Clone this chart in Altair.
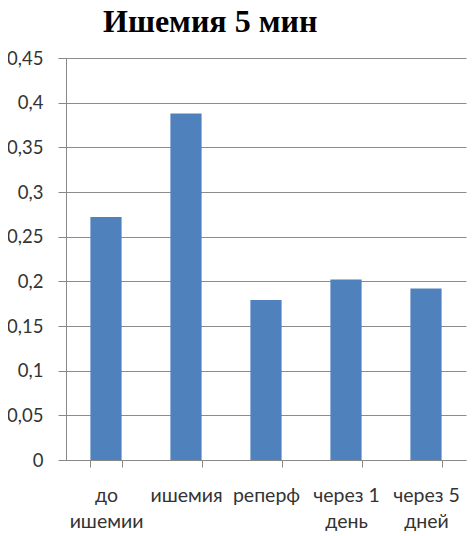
import altair as alt
import pandas as pd

categories = ["до ишемии", "ишемия", "реперф", "через 1 день", "через 5 дней"]
values = [0.272, 0.388, 0.179, 0.202, 0.192]
label_lines = {
    "до ишемии": ["до", "ишемии"],
    "ишемия": ["ишемия"],
    "реперф": ["реперф"],
    "через 1 день": ["через 1", "день"],
    "через 5 дней": ["через 5", "дней"],
}
y_ticks = [0, 0.05, 0.1, 0.15, 0.2, 0.25, 0.3, 0.35, 0.4, 0.45]

df = pd.DataFrame({"cat": categories, "val": values})

expr_parts = []
for k, lines in label_lines.items():
    arr = "[" + ",".join("'" + s + "'" for s in lines) + "]"
    expr_parts.append(f"datum.label == '{k}' ? {arr} : ")
label_expr = "".join(expr_parts) + "datum.label"

FONT = "Lato"

chart = (
    alt.Chart(df)
    .mark_bar(color="#4F81BD")
    .encode(
        x=alt.X(
            "cat:N",
            sort=categories,
            title=None,
            scale=alt.Scale(paddingInner=0.61, paddingOuter=0.305),
            axis=alt.Axis(
                labelAngle=0,
                labelExpr=label_expr,
                tickBand="extent",
                tickSize=7,
                tickColor="#888888",
                domainColor="#888888",
                labelFont=FONT,
                labelFontSize=19.5,
                labelColor="#333333",
                labelLineHeight=26,
                labelPadding=19,
                labelBaseline="top",
            ),
        ),
        y=alt.Y(
            "val:Q",
            title=None,
            scale=alt.Scale(domain=[0, 0.45], nice=False),
            axis=alt.Axis(
                values=y_ticks,
                labelExpr="replace(format(datum.value, '.2~f'), '.', ',')",
                grid=True,
                gridColor="#8c8c8c",
                tickSize=8,
                tickColor="#888888",
                domainColor="#888888",
                labelFont=FONT,
                labelFontSize=18.5,
                labelColor="#333333",
                labelPadding=15,
            ),
        ),
    )
    .properties(
        width=400,
        height=402,
        title=alt.TitleParams(
            "Ишемия 5 мин",
            font="Liberation Serif",
            fontSize=32,
            fontWeight="bold",
            color="#000000",
            anchor="start",
            frame="group",
            dx=37,
            offset=10,
        ),
        autosize=alt.AutoSizeParams(type="none"),
        padding={"left": 58, "top": 50, "right": 1, "bottom": 76},
    )
    .configure_view(stroke=None)
)

chart.save("out.html", embed_options={"renderer": "svg", "actions": False})
